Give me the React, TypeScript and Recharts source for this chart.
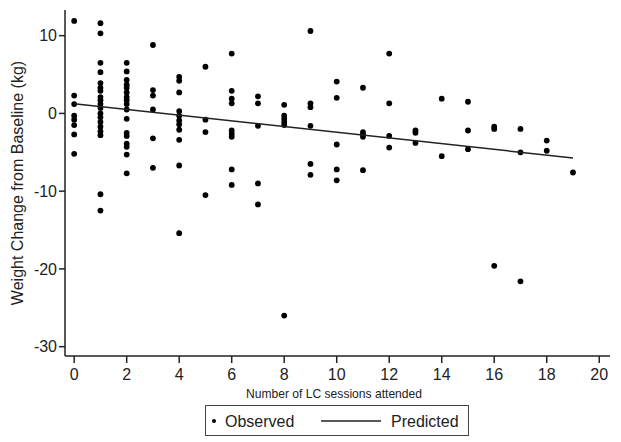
import { ScatterChart, Scatter, XAxis, YAxis, Label } from 'recharts';

// observed weight change (kg), grouped by number of LC sessions attended (index = sessions)
const observedBySession: number[][] = [
  [11.9, 2.3, 1.2, -0.3, -0.8, -1.5, -2.7, -5.2],
  [11.6, 10.3, 6.5, 5.3, 3.9, 3.3, 2.9, 2.1, 1.7, 1.2, 0.7, 0, -0.5, -1.1, -1.7, -2.3, -2.8, -10.4, -12.5],
  [6.5, 5.4, 4.3, 3.7, 3.3, 2.7, 2.1, 1.7, 1.2, 0.5, -0.7, -2.5, -2.9, -3.9, -4.3, -5.3, -7.7],
  [8.8, 3.0, 2.3, 0.5, -3.2, -7.0],
  [4.7, 4.2, 2.7, 0.3, -0.3, -0.9, -1.4, -2.1, -3.4, -6.7, -15.4],
  [6.0, -0.8, -2.4, -10.5],
  [7.7, 2.9, 1.9, 1.3, -2.2, -2.6, -3.0, -7.2, -9.2],
  [2.2, 1.3, -1.6, -9.0, -11.7],
  [1.1, -0.3, -0.7, -1.1, -1.5, -26.0],
  [10.6, 1.3, 0.8, -1.6, -6.5, -7.9],
  [4.1, 2.0, -4.0, -7.2, -8.6],
  [3.3, -2.4, -2.7, -3.0, -7.3],
  [7.7, 1.3, -2.9, -4.4],
  [-2.2, -2.5, -3.8],
  [1.9, -5.5],
  [1.5, -2.2, -4.6],
  [-1.7, -2.0, -19.6],
  [-2.0, -5.0, -21.6],
  [-3.5, -4.8],
  [-7.6],
];

// fitted line end points
const predictedX = [0, 19];
const predictedY = [1.25, -5.73];

const xTicks = [0, 2, 4, 6, 8, 10, 12, 14, 16, 18, 20];
const yTicks = [-30, -20, -10, 0, 10];

const observed = observedBySession.flatMap((vals, s) => vals.map((v) => ({ x: s, y: v })));
const predicted = predictedX.map((x, i) => ({ x, y: predictedY[i] }));

const FONT = '"Liberation Sans", Arial, Helvetica, sans-serif';
const INK = '#222';

const dot = (p: any) => <circle cx={p.cx} cy={p.cy} r={2.9} fill="#000" />;

export default function App() {
  return (
    <div style={{ position: 'absolute', left: 0, top: 0, width: 621, height: 442, background: '#fff', fontFamily: FONT }}>
      <ScatterChart width={621} height={442} margin={{ top: 10, right: 11, bottom: 56, left: 20 }}>
        <XAxis
          type="number"
          dataKey="x"
          domain={[-0.35, 20.41]}
          allowDataOverflow
          ticks={xTicks}
          tickSize={7}
          tickMargin={6}
          height={30}
          stroke={INK}
          strokeWidth={1.5}
          tick={{ fill: INK, fontSize: 16, fontFamily: FONT }}
        >
          <Label
            content={() => (
              <text x={334} y={398} textAnchor="middle" fontSize={13} fill={INK} fontFamily={FONT}
                textLength={176} lengthAdjust="spacingAndGlyphs">
                Number of LC sessions attended
              </text>
            )}
          />
        </XAxis>
        <YAxis
          type="number"
          dataKey="y"
          domain={[-31.2, 13.3]}
          allowDataOverflow
          ticks={yTicks}
          tickSize={6}
          tickMargin={2}
          width={45}
          stroke={INK}
          strokeWidth={1.5}
          tick={{ fill: INK, fontSize: 16, fontFamily: FONT }}
        >
          <Label
            content={() => (
              <text x={17} y={183} transform="rotate(-90 17 183)" textAnchor="middle" dominantBaseline="central"
                fontSize={16} fill={INK} fontFamily={FONT}>
                Weight Change from Baseline (kg)
              </text>
            )}
          />
        </YAxis>
        <Scatter name="Observed" data={observed} shape={dot} isAnimationActive={false} />
        <Scatter
          name="Predicted"
          data={predicted}
          line={{ stroke: INK, strokeWidth: 1.5 }}
          shape={() => <g />}
          isAnimationActive={false}
        />
      </ScatterChart>
      <div
        style={{
          position: 'absolute',
          left: 205,
          top: 405,
          width: 262,
          height: 29,
          border: '1.5px solid #444',
          boxSizing: 'content-box',
        }}
      >
        <svg width={262} height={29} style={{ display: 'block' }}>
          <circle cx={8} cy={15} r={2} fill="#000" />
          <text x={19} y={15} dominantBaseline="central" fontSize={16} fill={INK} fontFamily={FONT}>Observed</text>
          <line x1={115} x2={175} y1={15} y2={15} stroke={INK} strokeWidth={1.5} />
          <text x={185} y={15} dominantBaseline="central" fontSize={16} fill={INK} fontFamily={FONT}>Predicted</text>
        </svg>
      </div>
    </div>
  );
}
